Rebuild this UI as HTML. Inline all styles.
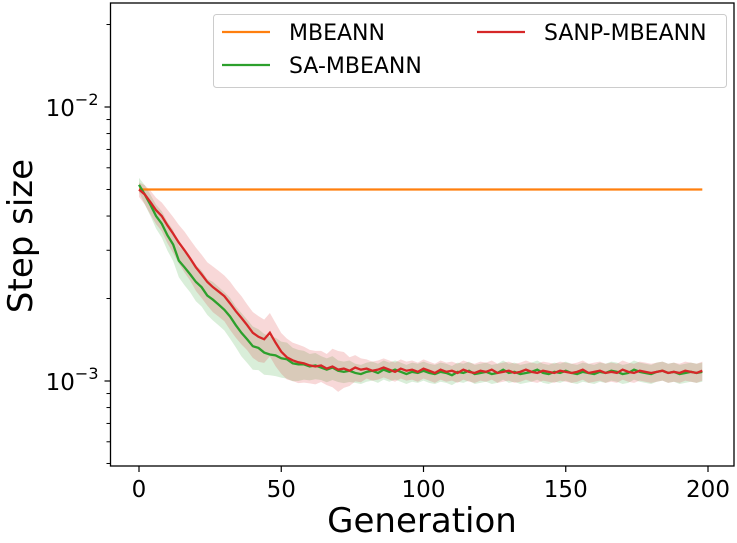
<!DOCTYPE html>
<html><head><meta charset="utf-8"><style>
body{margin:0;background:#fff}
svg text{font-family:"DejaVu Sans","Liberation Sans",sans-serif;fill:#000}
</style></head><body>
<svg id="chart" width="737" height="538"></svg>
<script>
const generations = [];
for (let i = 0; i < 100; i++) generations.push(i * 2);
const mbeann = 5.0;
const saMbeann = [5.2,4.8,4.4,4.0,3.75,3.4,3.15,2.75,2.6,2.45,2.3,2.2,2.05,1.98,1.9,1.82,1.72,1.6,1.5,1.42,1.34,1.32,1.27,1.25,1.24,1.21,1.2,1.16,1.15,1.15,1.13,1.14,1.12,1.1,1.12,1.09,1.08,1.09,1.07,1.06,1.08,1.09,1.07,1.1,1.08,1.1,1.08,1.06,1.08,1.07,1.09,1.07,1.06,1.08,1.07,1.05,1.08,1.07,1.09,1.06,1.07,1.08,1.06,1.07,1.1,1.07,1.08,1.06,1.07,1.08,1.1,1.07,1.06,1.08,1.07,1.09,1.07,1.06,1.08,1.07,1.06,1.08,1.07,1.09,1.08,1.06,1.07,1.1,1.08,1.07,1.06,1.08,1.09,1.07,1.08,1.06,1.07,1.08,1.07,1.08];
const sanpMbeann = [5.0,4.8,4.5,4.2,4.0,3.7,3.45,3.2,3.0,2.8,2.6,2.45,2.3,2.2,2.12,2.04,1.92,1.8,1.7,1.6,1.5,1.45,1.42,1.5,1.38,1.28,1.22,1.19,1.17,1.16,1.14,1.13,1.14,1.11,1.13,1.1,1.11,1.09,1.12,1.1,1.11,1.09,1.1,1.12,1.1,1.08,1.11,1.09,1.1,1.08,1.11,1.09,1.07,1.1,1.08,1.09,1.07,1.1,1.08,1.07,1.09,1.08,1.1,1.07,1.08,1.09,1.07,1.08,1.1,1.08,1.07,1.09,1.08,1.07,1.09,1.08,1.07,1.08,1.1,1.07,1.08,1.09,1.07,1.08,1.07,1.1,1.08,1.07,1.09,1.08,1.07,1.08,1.09,1.07,1.08,1.07,1.09,1.08,1.07,1.09];
const saSpread = [0.06,0.08,0.09,0.1,0.11,0.12,0.13,0.13,0.14,0.14,0.15,0.15,0.15,0.16,0.16,0.16,0.17,0.17,0.18,0.18,0.18,0.17,0.17,0.16,0.16,0.15,0.15,0.14,0.13,0.12,0.11,0.11,0.1,0.1,0.1,0.09,0.09,0.09,0.08,0.08];
const sanpSpread = [0.06,0.08,0.1,0.11,0.12,0.14,0.15,0.16,0.17,0.17,0.18,0.18,0.18,0.19,0.19,0.19,0.2,0.2,0.2,0.19,0.19,0.19,0.18,0.18,0.18,0.17,0.17,0.16,0.16,0.15,0.14,0.14,0.13,0.13,0.16,0.17,0.15,0.12,0.11,0.1];
const xTicks = [0,50,100,150,200];

const L=110.5,R=734,T=3,B=466;
const X = g => 139 + g*(708-139)/200;
const Y = v => 107 + (-2 - Math.log10(v*1e-3))*274;
const svg = document.getElementById('chart');
const NS='http://www.w3.org/2000/svg';
function mk(tag, attrs, parent){const e=document.createElementNS(NS,tag);for(const k in attrs)e.setAttribute(k,attrs[k]);(parent||svg).appendChild(e);return e;}
function sp(arr,i){return i<arr.length?arr[i]:0.08;}

function band(mean, spread, color, name){
  let up=[],lo=[];
  generations.forEach((g,i)=>{up.push(X(g)+','+Y(mean[i]*(1+sp(spread,i))));lo.unshift(X(g)+','+Y(mean[i]*(1-sp(spread,i))));});
  const p=mk('polygon',{points:up.concat(lo).join(' '),fill:color,'fill-opacity':0.18,stroke:'none'});
  
  
}
function line(mean,color,name){
  const p=mk('polyline',{points:generations.map((g,i)=>X(g)+','+Y(mean[i])).join(' '),fill:'none',stroke:color,'stroke-width':2.3});
  
  
}
band(saMbeann,saSpread,'#2ca02c','sa-mbeann-band');
band(sanpMbeann,sanpSpread,'#d62728','sanp-mbeann-band');
const ol=mk('line',{x1:X(0),x2:X(198),y1:Y(mbeann),y2:Y(mbeann),stroke:'#ff7f0e','stroke-width':2.3});


line(saMbeann,'#2ca02c','sa-mbeann-line');
line(sanpMbeann,'#d62728','sanp-mbeann-line');

const frame=mk('rect',{x:L,y:T,width:R-L,height:B-T,fill:'none',stroke:'#000','stroke-width':1.3});



xTicks.forEach(t=>{
  mk('line',{x1:X(t),x2:X(t),y1:B,y2:B+6,stroke:'#000','stroke-width':1.2});
  const tx=mk('text',{x:X(t),y:B+31,'text-anchor':'middle','font-size':23});
  tx.textContent=t;
  
  
});
[[10,'−2'],[1,'−3']].forEach(([v,e])=>{
  mk('line',{x1:L-6,x2:L,y1:Y(v),y2:Y(v),stroke:'#000','stroke-width':1.2});
  const tx=mk('text',{x:L-12,y:Y(v)+9,'text-anchor':'end','font-size':23});
  tx.innerHTML='10<tspan dy="-11" font-size="16">'+e+'</tspan>';
  
  
});
[0.5,0.6,0.7,0.8,0.9,2,3,4,5,6,7,8,9,20].forEach(v=>{
  const y=Y(v); if(y<T||y>B) return;
  mk('line',{x1:L-4,x2:L,y1:y,y2:y,stroke:'#000','stroke-width':1});
});

const yl=mk('text',{x:0,y:0,transform:'translate(32,236) rotate(-90)','text-anchor':'middle','font-size':34});
yl.textContent='Step size';


const xl=mk('text',{x:422,y:532,'text-anchor':'middle','font-size':34});
xl.textContent='Generation';



const lg=mk('g',{});


mk('rect',{x:213.5,y:14.5,width:513,height:73,rx:3,fill:'#fff','fill-opacity':0.8,stroke:'#ccc'},lg);
[['MBEANN','#ff7f0e',222,32],['SA-MBEANN','#2ca02c',222,65],['SANP-MBEANN','#d62728',477,32]].forEach(([n,c,x,y])=>{
  const e=mk('g',{},lg);
  
  
  mk('line',{x1:x,x2:x+48,y1:y,y2:y,stroke:c,'stroke-width':2.3},e);
  const t=mk('text',{x:x+67,y:y+8,'font-size':22},e);
  t.textContent=n;
});
</script>
</body></html>
